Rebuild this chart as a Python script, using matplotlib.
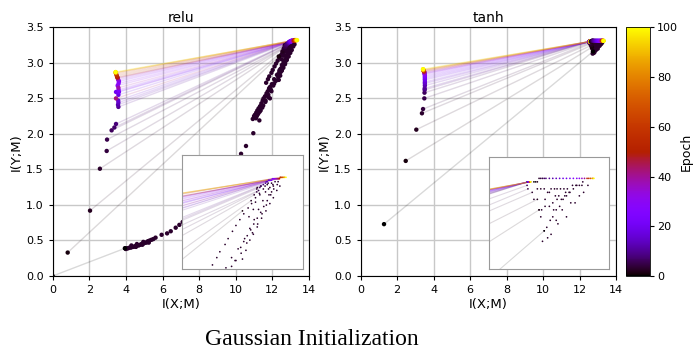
import numpy as np
import matplotlib
matplotlib.use("Agg")
import matplotlib.pyplot as plt
from matplotlib.collections import LineCollection
from matplotlib.colors import Normalize

# ---------------- relu ----------------
# epochs at which the layers were sampled (one line per epoch)
relu_epochs = [0, 1, 2, 3, 4, 5, 6, 7, 8, 10, 12, 14, 16, 18, 20, 22, 24, 26, 28, 30,
               32, 35, 38, 42, 45, 50, 55, 60, 70, 80, 90, 100]
# output layer
relu_out_x = [0.0, 0.82, 2.04, 2.58, 2.95, 2.97, 3.22, 3.37, 3.46, 3.59, 3.57, 3.59, 3.58, 3.59, 3.46, 3.62,
              3.60, 3.62, 3.60, 3.55, 3.58, 3.56, 3.59, 3.46, 3.55, 3.52, 3.50, 3.47, 3.45, 3.45, 3.44, 3.44]
relu_out_y = [0.0, 0.33, 0.92, 1.51, 1.76, 1.92, 2.05, 2.09, 2.14, 2.38, 2.41, 2.44, 2.47, 2.55, 2.59, 2.59,
              2.62, 2.74, 2.71, 2.68, 2.76, 2.78, 2.65, 2.50, 2.79, 2.80, 2.82, 2.84, 2.86, 2.86, 2.87, 2.87]
# first hidden layer (end of each epoch line)
relu_hid_x = [3.95, 12.35, 12.55, 12.62, 12.68, 12.72, 12.75, 12.78, 12.83, 12.88, 12.90, 12.92, 12.95, 12.97,
              13.00, 13.02, 13.04, 13.05, 13.07, 13.08, 13.10, 13.12, 13.14, 13.16, 13.18, 13.20, 13.22,
              13.24, 13.27, 13.30, 13.32, 13.35]
relu_hid_y = [0.39, 3.09, 3.16, 3.20, 3.22, 3.23, 3.25, 3.26, 3.27, 3.28, 3.29, 3.29, 3.30, 3.30, 3.30, 3.30,
              3.31, 3.31, 3.31, 3.31, 3.31, 3.31, 3.31, 3.31, 3.31, 3.31, 3.32, 3.32, 3.32, 3.32, 3.32, 3.32]
# deeper layers during the first epochs (dark points, no lines)
relu_low_x = [3.95, 4.00, 4.05, 4.12, 4.20, 4.28, 4.30, 4.35, 4.42, 4.50, 4.55, 4.60, 4.62, 4.70, 4.78, 4.85,
              4.90, 4.95, 4.98, 5.05, 5.12, 5.20, 5.25, 5.30, 5.40, 5.50, 5.62, 5.95, 6.25, 6.45, 6.72, 6.92, 7.10]
relu_low_y = [0.39, 0.38, 0.39, 0.39, 0.40, 0.40, 0.43, 0.41, 0.41, 0.42, 0.41, 0.45, 0.43, 0.43, 0.44, 0.45,
              0.44, 0.48, 0.46, 0.47, 0.47, 0.49, 0.47, 0.50, 0.51, 0.52, 0.54, 0.58, 0.60, 0.63, 0.68, 0.72, 0.76]
relu_streak_x = [10.29, 10.56, 10.96, 11.29, 10.93, 11.05, 11.18, 11.33, 11.47, 11.60, 11.75, 11.87, 11.87,
                 11.15, 11.30, 11.45, 11.62, 11.78, 11.95,
                 11.66, 11.76, 11.83, 11.95, 12.02, 12.12, 12.20, 12.29, 12.38, 12.48, 12.56, 12.65, 12.74,
                 12.83, 12.92,
                 12.10, 12.20, 12.31, 12.38, 12.46, 12.54, 12.61, 12.69, 12.77, 12.84, 12.92, 13.00, 13.07,
                 13.15,
                 12.35, 12.43, 12.52, 12.60, 12.69, 12.79, 12.89, 12.98, 13.06, 13.14, 13.21,
                 12.69, 12.77, 12.87, 12.94, 13.02, 13.10, 13.17, 12.98, 13.06,
                 11.00, 11.10, 11.12, 11.22, 11.25, 11.36, 11.40, 11.50, 11.52, 11.63, 11.68, 11.78, 11.82,
                 11.92, 11.97, 12.05, 12.10, 12.18, 12.25, 12.32, 12.40, 12.45, 12.52, 12.58, 12.62, 12.70,
                 12.72, 12.80, 12.82, 12.90, 12.88, 12.96, 12.60, 12.65, 12.75, 12.95, 13.02, 13.05, 12.50,
                 12.68]
relu_streak_y = [1.72, 1.83, 2.01, 2.19, 2.21, 2.27, 2.33, 2.39, 2.47, 2.53, 2.60, 2.50, 2.66,
                 2.25, 2.31, 2.37, 2.45, 2.52, 2.60,
                 2.72, 2.77, 2.81, 2.86, 2.90, 2.95, 2.99, 3.03, 3.07, 3.11, 3.14, 3.18, 3.21,
                 3.24, 3.27,
                 2.71, 2.75, 2.84, 2.88, 2.92, 2.96, 3.00, 3.04, 3.08, 3.12, 3.16, 3.20, 3.24,
                 3.27,
                 2.76, 2.82, 2.89, 2.93, 2.98, 3.04, 3.09, 3.14, 3.18, 3.23, 3.26,
                 3.25, 3.26, 3.26, 3.28, 3.28, 3.29, 3.29, 3.25, 3.26,
                 2.25, 2.22, 2.30, 2.28, 2.36, 2.33, 2.43, 2.40, 2.50, 2.47, 2.57, 2.55, 2.64,
                 2.62, 2.70, 2.68, 2.77, 2.75, 2.83, 2.80, 2.90, 2.87, 2.97, 2.94, 3.03, 3.00,
                 3.10, 3.07, 3.16, 3.13, 3.22, 3.20, 3.10, 3.15, 3.20, 3.24, 3.22, 3.27, 3.05,
                 3.24]

# ---------------- tanh ----------------
tanh_epochs = [0, 1, 2, 3, 4, 5, 6, 8, 10, 12, 14, 16, 18, 20, 22, 25, 28, 30, 35, 40,
               50, 60, 70, 80, 90, 100]
tanh_out_x = [1.28, 2.47, 3.05, 3.36, 3.42, 3.49, 3.50, 3.51, 3.51, 3.52, 3.52, 3.52, 3.52, 3.52, 3.52, 3.52,
              3.51, 3.50, 3.50, 3.49, 3.47, 3.45, 3.44, 3.43, 3.42, 3.42]
tanh_out_y = [0.73, 1.62, 2.06, 2.29, 2.35, 2.50, 2.58, 2.62, 2.64, 2.68, 2.71, 2.73, 2.76, 2.78, 2.80, 2.82,
              2.84, 2.85, 2.86, 2.87, 2.88, 2.89, 2.90, 2.90, 2.91, 2.91]
tanh_hid_x = [12.74, 12.68, 12.66, 12.60, 12.55, 12.54, 12.54, 12.55, 12.55, 12.55, 12.55, 12.55, 12.55,
              12.56, 12.56, 12.56, 12.56, 12.56, 12.57, 12.57, 12.57, 12.57, 12.58, 12.58, 12.58, 12.58]
tanh_hid_y = [3.16, 3.22, 3.25, 3.27, 3.28, 3.29, 3.30, 3.30, 3.30, 3.30, 3.30, 3.30, 3.30, 3.30, 3.30, 3.30,
              3.30, 3.30, 3.30, 3.30, 3.30, 3.30, 3.30, 3.30, 3.30, 3.30]
# saturated deeper layers along the top row
tanh_row_x = [12.62, 12.64, 12.66, 12.68, 12.70, 12.72, 12.74, 12.76, 12.80, 12.84, 12.88, 12.92, 12.96,
              13.00, 13.04, 13.08, 13.12, 13.15, 13.18, 13.21, 13.24, 13.26, 13.28, 13.30, 13.31, 13.32]
tanh_row_y = [3.30, 3.30, 3.30, 3.31, 3.31, 3.31, 3.31, 3.31, 3.31, 3.31, 3.31, 3.31, 3.31, 3.31, 3.31, 3.31,
              3.31, 3.31, 3.31, 3.31, 3.31, 3.31, 3.31, 3.31, 3.31, 3.31]
tanh_streak_x = [12.74, 12.77, 12.81, 12.84, 12.88, 12.92, 12.96, 13.00, 13.04, 13.08, 13.11, 13.15, 13.19,
                 12.68, 12.71, 12.75, 12.80, 12.84, 12.89, 12.94, 12.98, 13.03,
                 12.66, 12.70, 12.74, 12.78, 12.82, 12.86, 12.89, 12.93, 12.97, 13.01, 13.07, 13.12, 13.18,
                 12.91, 12.99, 12.87,
                 12.62, 12.70, 12.78, 12.82, 12.90, 13.00, 13.10, 13.20, 13.25, 12.95, 13.05, 12.85, 12.75,
                 12.80, 12.72, 13.15, 12.88]
tanh_streak_y = [3.16, 3.17, 3.19, 3.20, 3.22, 3.23, 3.25, 3.26, 3.27, 3.28, 3.29, 3.29, 3.30,
                 3.22, 3.22, 3.23, 3.23, 3.24, 3.25, 3.25, 3.26, 3.27,
                 3.28, 3.28, 3.28, 3.27, 3.28, 3.28, 3.28, 3.28, 3.28, 3.28, 3.29, 3.29, 3.29,
                 3.26, 3.27, 3.26,
                 3.25, 3.20, 3.14, 3.15, 3.18, 3.20, 3.24, 3.27, 3.29, 3.22, 3.24, 3.22, 3.25,
                 3.27, 3.13, 3.26, 3.19]

cmap = plt.get_cmap("gnuplot")
norm = Normalize(0, 100)


def draw(ax, epochs, ox, oy, hx, hy, dark_x, dark_y, row_x=None, row_y=None, s=10, lw=1.0):
    segs = [[(a, b), (c, d)] for a, b, c, d in zip(ox, oy, hx, hy)]
    ax.add_collection(LineCollection(segs, colors=cmap(norm(epochs)), alpha=0.15, linewidths=lw, zorder=1))
    ax.scatter(dark_x, dark_y, c=[3] * len(dark_x), cmap=cmap, norm=norm, s=s, lw=0, zorder=2)
    ax.scatter(hx, hy, c=epochs, cmap=cmap, norm=norm, s=s, lw=0, zorder=3)
    if row_x is not None:
        ax.scatter(row_x, row_y, c=epochs, cmap=cmap, norm=norm, s=s, lw=0, zorder=3)
    ax.scatter(ox, oy, c=epochs, cmap=cmap, norm=norm, s=s, lw=0, zorder=3)


fig = plt.figure(figsize=(6.94, 3.54), dpi=100)
ax1 = fig.add_axes([0.0759, 0.2203, 0.3693, 0.7025])
ax2 = fig.add_axes([0.5197, 0.2203, 0.3679, 0.7025])
cax = fig.add_axes([0.9016, 0.2203, 0.035, 0.7025])

panels = [
    (ax1, "relu", relu_epochs, relu_out_x, relu_out_y, relu_hid_x, relu_hid_y,
     relu_low_x + relu_streak_x, relu_low_y + relu_streak_y, None, None,
     [0.503, 0.027, 0.475, 0.458], (10.95, 13.75), (2.69, 3.47)),
    (ax2, "tanh", tanh_epochs, tanh_out_x, tanh_out_y, tanh_hid_x, tanh_hid_y,
     tanh_streak_x, tanh_streak_y, tanh_row_x, tanh_row_y,
     [0.504, 0.027, 0.47, 0.45], (12.1, 13.5), (3.05, 3.37)),
]

for ax, name, ep, ox, oy, hx, hy, dx, dy, rx, ry, box, zx, zy in panels:
    draw(ax, ep, ox, oy, hx, hy, dx, dy, rx, ry)
    ax.set_xlim(0, 14)
    ax.set_ylim(0, 3.5)
    ax.set_xticks(range(0, 15, 2))
    ax.set_yticks(np.arange(0, 3.51, 0.5))
    ax.grid(True, color="#c8c8c8", lw=1)
    ax.set_axisbelow(True)
    ax.tick_params(labelsize=8, length=3)
    ax.set_title(name, fontsize=10, pad=4)
    ax.set_xlabel("I(X;M)", fontsize=9.5, labelpad=2)
    ax.set_ylabel("I(Y;M)", fontsize=9.5, labelpad=2)

    ins = ax.inset_axes(box)
    draw(ins, ep, ox, oy, hx, hy, dx, dy, rx, ry, s=1.5, lw=0.8)
    ins.set_xlim(*zx)
    ins.set_ylim(*zy)
    ins.set_xticks([])
    ins.set_yticks([])
    ins.set_facecolor("white")
    ins.set_zorder(5)
    for sp in ins.spines.values():
        sp.set_color("#999999")

sm = plt.cm.ScalarMappable(cmap=cmap, norm=norm)
cb = fig.colorbar(sm, cax=cax)
cb.set_ticks([0, 20, 40, 60, 80, 100])
cb.ax.tick_params(labelsize=8, length=3, pad=2)
cb.set_label("Epoch", fontsize=9, labelpad=1)
cb.outline.set_linewidth(0.6)

fig.text(0.45, 0.04, "Gaussian Initialization", family="Liberation Serif", fontsize=17,
         ha="center", va="center")

plt.savefig("out.png", dpi=100)
